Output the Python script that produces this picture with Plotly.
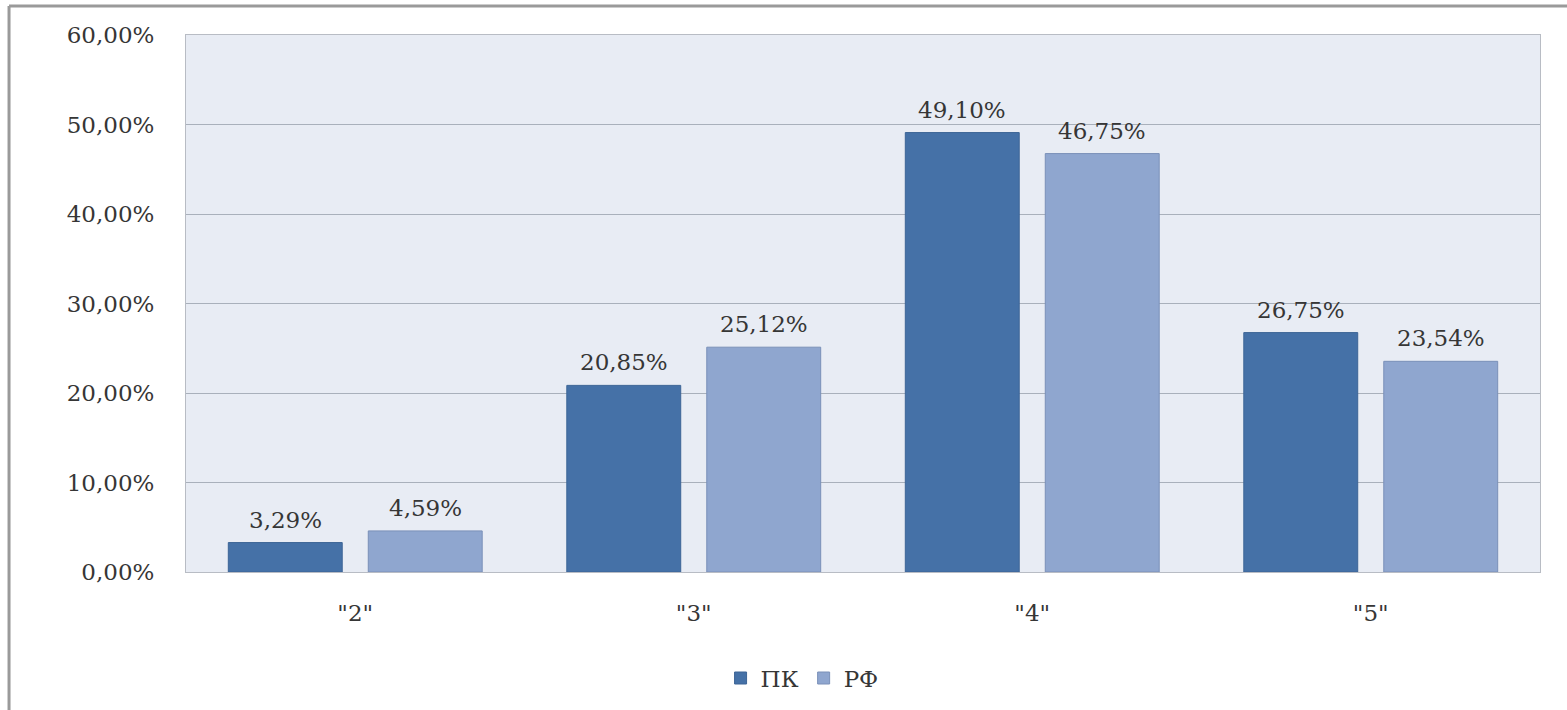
import plotly.graph_objects as go

categories = ['"2"', '"3"', '"4"', '"5"']
pk_values = [3.29, 20.85, 49.10, 26.75]
rf_values = [4.59, 25.12, 46.75, 23.54]
series_names = ["ПК", "РФ"]
y_ticks = [0, 10, 20, 30, 40, 50, 60]
y_ticktext = ["0,00%", "10,00%", "20,00%", "30,00%", "40,00%", "50,00%", "60,00%"]

font_family = "DejaVu Serif, Liberation Serif, serif"
text_color = "#363636"
colors = ["#4571a7", "#8fa6cf"]
edge_colors = ["#3d6596", "#7a90b8"]

fig = go.Figure()
for i, (name, vals) in enumerate(zip(series_names, [pk_values, rf_values])):
    fig.add_trace(go.Bar(
        x=categories, y=vals, name=name, offsetgroup=str(i),
        marker=dict(color=colors[i], line=dict(color=edge_colors[i], width=1)),
    ))

# value labels above bars
annotations = []
for i, vals in enumerate([pk_values, rf_values]):
    for c, v in zip(categories, vals):
        annotations.append(dict(
            x=c, y=v, xref="x", yref="y", text=f"{v:.2f}%".replace(".", ","),
            showarrow=False, yanchor="bottom", yshift=8,
            xshift=(-70 if i == 0 else 70),
            font=dict(family=font_family, size=23, color=text_color),
        ))

fig.update_layout(
    width=1567, height=710,
    margin=dict(l=186, r=27, t=35, b=138),
    paper_bgcolor="white",
    plot_bgcolor="#e8ecf4",
    separators=", ",
    barmode="group",
    bargap=0.173,
    bargroupgap=0.186,
    font=dict(family=font_family, size=23, color=text_color),
    showlegend=True,
    legend=dict(orientation="h", x=0.455, xanchor="center",
                yref="container", y=0.045, yanchor="middle",
                font=dict(family=font_family, size=23, color=text_color),
                itemwidth=30, tracegroupgap=0),
    xaxis=dict(showgrid=False, showline=True, linecolor="#b8bcc4", linewidth=1,
               mirror=True, ticks="", ticklabelstandoff=20, automargin=False,
               tickfont=dict(family=font_family, size=23, color=text_color)),
    yaxis=dict(range=[0, 60], tickvals=y_ticks, ticktext=y_ticktext,
               showgrid=True, gridcolor="#a9b0bb", gridwidth=1,
               showline=True, linecolor="#b8bcc4", linewidth=1, mirror=True,
               zeroline=False, ticks="", ticklabelstandoff=26, automargin=False,
               tickfont=dict(family=font_family, size=23, color=text_color)),
    annotations=annotations,
    shapes=[
        dict(type="line", xref="paper", yref="paper",
             x0=-0.1307, x1=-0.1307, y0=1.054, y1=-0.27,
             line=dict(color="#9a9a9a", width=3)),
        dict(type="line", xref="paper", yref="paper",
             x0=-0.1307, x1=1.03, y0=1.054, y1=1.054,
             line=dict(color="#9a9a9a", width=3)),
    ],
)

fig.write_html("out.html", config={"displayModeBar": False},
               post_script="document.body.style.margin='0';")
